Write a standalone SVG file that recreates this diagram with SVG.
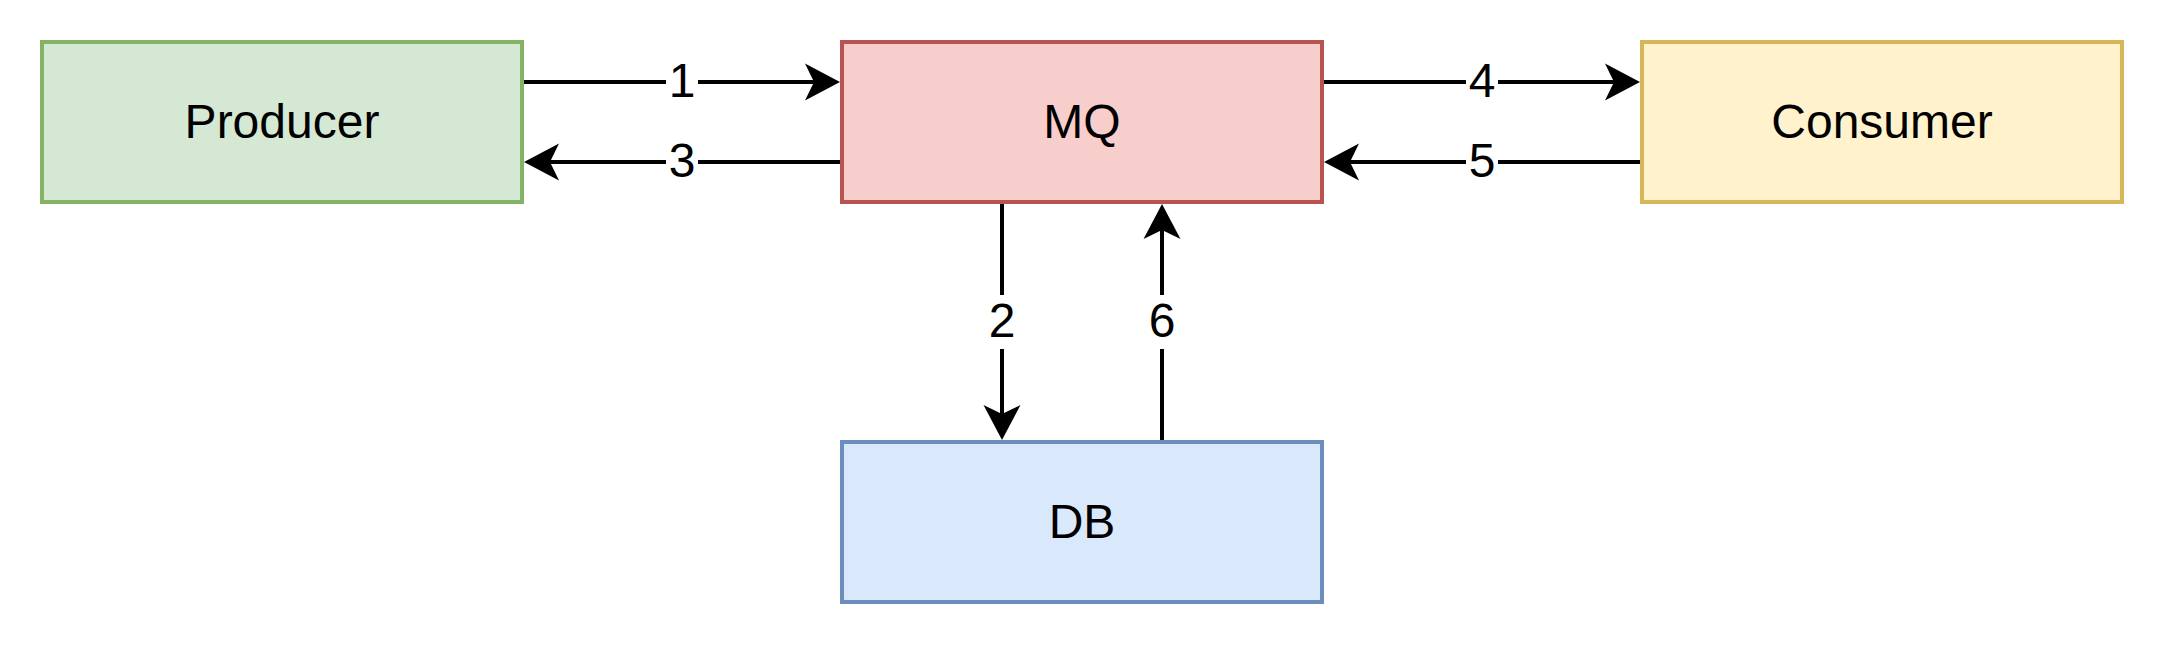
<svg xmlns="http://www.w3.org/2000/svg" width="2164" height="648" viewBox="0 0 2164 648">
  <style>
    .box { stroke-width: 4; }
    .lbl { font-family: "Liberation Sans", Arial, Helvetica, sans-serif; font-size: 48px; fill: #000000; text-anchor: middle; }
    .edge { stroke: #000000; stroke-width: 4; fill: none; marker-end: url(#arrow); }
    .lblbg { fill: #ffffff; }
  </style>
  <defs>
    <marker id="arrow" markerUnits="userSpaceOnUse" markerWidth="36" markerHeight="38" viewBox="0 0 36 38" refX="9" refY="19" orient="auto" overflow="visible">
      <path d="M35,19 L0,0.5 L9,19 L0,37.5 Z" fill="#000000"/>
    </marker>
  </defs>
  <rect width="2164" height="648" fill="#ffffff"/>

  <g id="producer">
    <rect class="box" x="42" y="42" width="480" height="160" fill="#d5e8d4" stroke="#82b366"/>
    <text class="lbl" x="282" y="138">Producer</text>
  </g>
  <g id="mq">
    <rect class="box" x="842" y="42" width="480" height="160" fill="#f8cecc" stroke="#b85450"/>
    <text class="lbl" x="1082" y="138">MQ</text>
  </g>
  <g id="consumer">
    <rect class="box" x="1642" y="42" width="480" height="160" fill="#fff2cc" stroke="#d6b656"/>
    <text class="lbl" x="1882" y="138">Consumer</text>
  </g>
  <g id="db">
    <rect class="box" x="842" y="442" width="480" height="160" fill="#dae8fc" stroke="#6c8ebf"/>
    <text class="lbl" x="1082" y="538">DB</text>
  </g>

  <g id="connectors">
    <path class="edge" d="M524,82 L814,82"/>
    <path class="edge" d="M840,162 L550,162"/>
    <path class="edge" d="M1324,82 L1614,82"/>
    <path class="edge" d="M1640,162 L1350,162"/>
    <path class="edge" d="M1002,204 L1002,414"/>
    <path class="edge" d="M1162,440 L1162,230"/>

    <rect class="lblbg" x="666" y="60" width="32" height="44"/>
    <text class="lbl" x="682" y="97">1</text>
    <rect class="lblbg" x="666" y="140" width="32" height="44"/>
    <text class="lbl" x="682" y="177">3</text>
    <rect class="lblbg" x="1466" y="60" width="32" height="44"/>
    <text class="lbl" x="1482" y="97">4</text>
    <rect class="lblbg" x="1466" y="140" width="32" height="44"/>
    <text class="lbl" x="1482" y="177">5</text>
    <rect class="lblbg" x="986" y="295" width="32" height="54"/>
    <text class="lbl" x="1002" y="337">2</text>
    <rect class="lblbg" x="1146" y="295" width="32" height="54"/>
    <text class="lbl" x="1162" y="337">6</text>
  </g>
</svg>
